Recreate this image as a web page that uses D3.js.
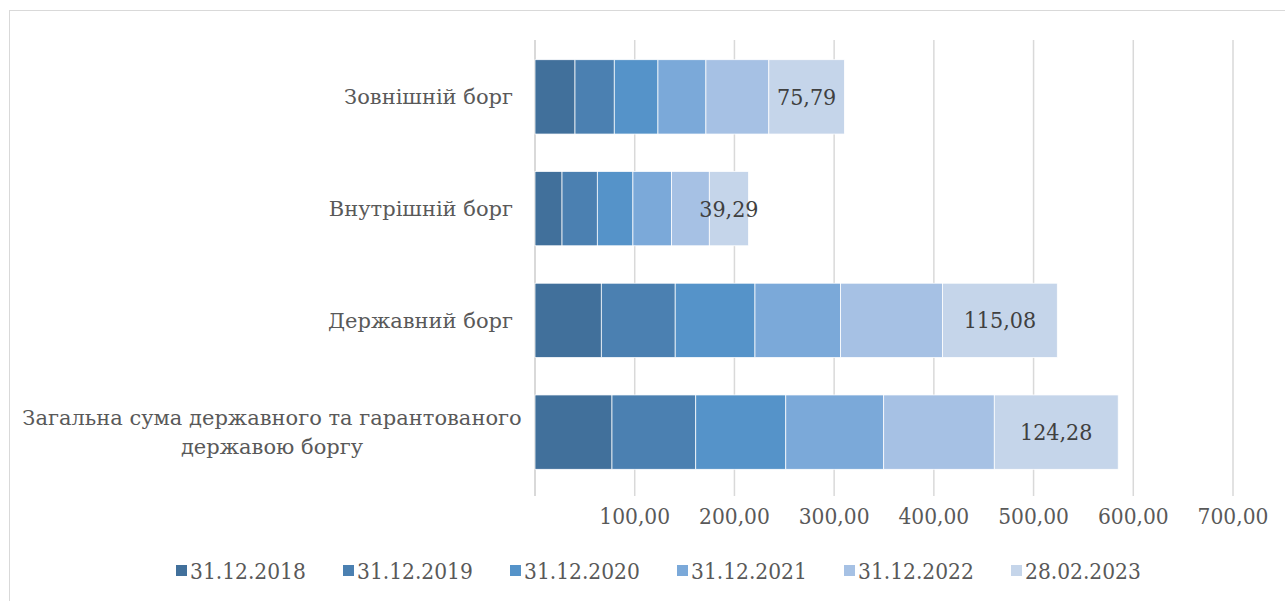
<!DOCTYPE html>
<html>
<head>
<meta charset="utf-8">
<script src="https://cdn.jsdelivr.net/npm/d3@7"></script>
<style>
  body { margin: 0; background: #fff; }
  svg text { font-family: "DejaVu Serif Condensed", "DejaVu Serif", serif; }
  svg text.cat { font-family: "DejaVu Serif", serif; }
</style>
</head>
<body>
<div id="chart"></div>
<script>
// categories, top to bottom
const categories = [
  "Зовнішній борг",
  "Внутрішній борг",
  "Державний борг",
  "Загальна сума державного та гарантованого державою боргу"
];
const seriesNames = ["31.12.2018", "31.12.2019", "31.12.2020", "31.12.2021", "31.12.2022", "28.02.2023"];
const seriesColors = ["#41709b", "#4b80b1", "#5593c9", "#7ba9d9", "#a6c1e4", "#c5d5ea"];

// values per series, same order as categories
const s2018 = [40.1, 27.1, 66.5, 77.2];
const s2019 = [39.4, 35.4, 74.1, 84.0];
const s2020 = [43.8, 35.7, 80.0, 90.3];
const s2021 = [48.1, 38.8, 85.9, 98.2];
const s2022 = [63.1, 37.8, 102.2, 110.9];
const s2023 = [75.79, 39.29, 115.08, 124.28];

const xTicks = [0, 100, 200, 300, 400, 500, 600, 700];

const seriesValues = [s2018, s2019, s2020, s2021, s2022, s2023];

// build rows for the stack
const rows = categories.map((c, i) => {
  let r = {category: c};
  seriesNames.forEach((s, j) => { r[s] = seriesValues[j][i]; });
  return r;
});

const W = 1285, H = 601;
const margin = {top: 41, left: 535, right: 52, bottom: 113};
const width = W - margin.left - margin.right;
const height = H - margin.top - margin.bottom;

const svg = d3.select("#chart").append("svg")
  .attr("width", W).attr("height", H);

// outer chart border
svg.append("rect")
  .attr("x", 9.5).attr("y", 10.5)
  .attr("width", W).attr("height", H)
  .attr("fill", "none").attr("stroke", "#d9d9d9");

const g = svg.append("g")
  .attr("transform", "translate(" + margin.left + "," + margin.top + ")");

const x = d3.scaleLinear().domain([0, 700]).range([0, 698]);
const y = d3.scaleBand().domain(categories).range([0, height]).paddingInner(0.335).paddingOuter(0.1675);
const color = d3.scaleOrdinal().domain(seriesNames).range(seriesColors);

// gridlines (also act as the tick marks below the plot)
g.selectAll(".grid")
  .data(xTicks)
  .enter().append("line")
  .attr("class", "grid")
  .attr("x1", d => x(d)).attr("x2", d => x(d))
  .attr("y1", -1).attr("y2", height + 8)
  .attr("stroke", "#d9d9d9").attr("stroke-width", d => d === 0 ? 2 : 1.5);

const stacked = d3.stack().keys(seriesNames)(rows);

const layers = g.selectAll(".layer")
  .data(stacked)
  .enter().append("g")
  .attr("class", "layer")
  .attr("fill", d => color(d.key));

layers.selectAll("rect")
  .data(d => d)
  .enter().append("rect")
  .attr("x", d => x(d[0]))
  .attr("y", d => y(d.data.category))
  .attr("width", d => x(d[1]) - x(d[0]))
  .attr("height", y.bandwidth())
  .attr("stroke", "#ffffff")
  .attr("stroke-width", 0.75);

// data labels on the last series only
const last = stacked[stacked.length - 1];
g.selectAll(".lbl")
  .data(last)
  .enter().append("text")
  .attr("class", "lbl")
  .attr("x", d => (x(d[0]) + x(d[1])) / 2)
  .attr("y", d => y(d.data.category) + y.bandwidth() / 2)
  .attr("dy", "0.35em")
  .attr("text-anchor", "middle")
  .attr("font-size", 23)
  .attr("fill", "#404040")
  .text(d => d3.format(".2f")(d[1] - d[0]).replace(".", ","));

// x tick labels (no label at zero)
g.selectAll(".xl")
  .data(xTicks.filter(d => d > 0))
  .enter().append("text")
  .attr("class", "xl")
  .attr("x", d => x(d))
  .attr("y", height + 36)
  .attr("text-anchor", "middle")
  .attr("font-size", 22.5)
  .attr("fill", "#595959")
  .text(d => d3.format(".2f")(d).replace(".", ","));

// category labels, wrap the long one into two lines
const catLines = {
  "Загальна сума державного та гарантованого державою боргу":
    ["Загальна сума державного та гарантованого", "державою боргу"]
};
categories.forEach(c => {
  const lines = catLines[c] || [c];
  const cy = y(c) + y.bandwidth() / 2;
  const multi = lines.length > 1;
  const t = g.append("text")
    .attr("class", "cat")
    .attr("text-anchor", multi ? "middle" : "end")
    .attr("font-size", 21)
    .attr("fill", "#595959");
  const cx = multi ? -263 : -22;
  lines.forEach((l, i) => {
    t.append("tspan")
      .attr("x", cx)
      .attr("y", cy + (i - (lines.length - 1) / 2) * 29)
      .attr("dy", "0.35em")
      .text(l);
  });
});

// legend
const legend = svg.append("g").attr("transform", "translate(176," + 571 + ")");
const item = legend.selectAll(".li")
  .data(seriesNames)
  .enter().append("g")
  .attr("class", "li")
  .attr("transform", (d, i) => "translate(" + (i * 167) + ",0)");
item.append("rect")
  .attr("x", 0).attr("y", -6)
  .attr("width", 11).attr("height", 11)
  .attr("fill", d => color(d));
item.append("text")
  .attr("x", 14).attr("y", 0)
  .attr("dy", "0.35em")
  .attr("font-size", 22.5)
  .attr("fill", "#595959")
  .text(d => d);
</script>
</body>
</html>
